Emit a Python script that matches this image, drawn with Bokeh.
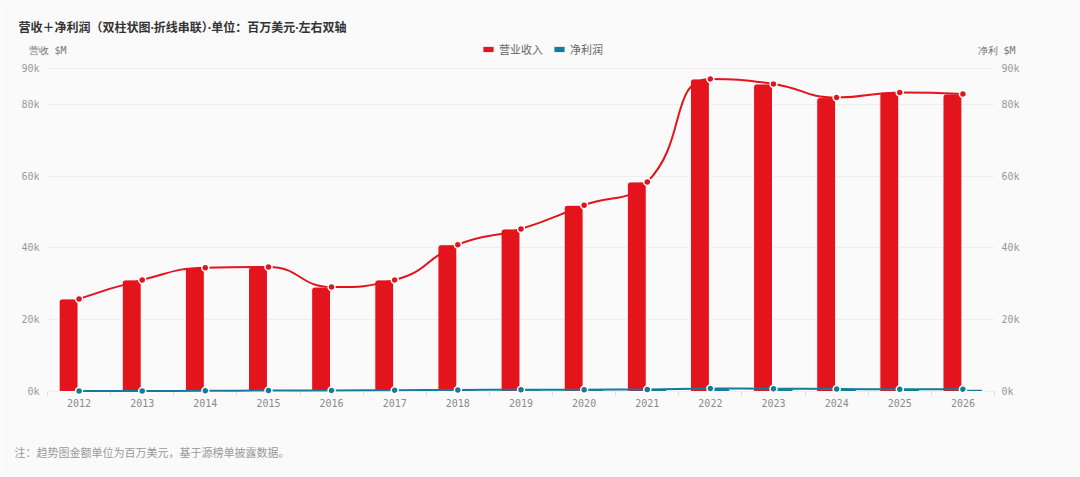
import math
from bokeh.plotting import figure
from bokeh.models import (Range1d, LinearAxis, FixedTicker, ColumnDataSource, Label,
                          Legend, LegendItem)
from bokeh.transform import dodge
from bokeh.embed import file_html
from bokeh.resources import INLINE

# ---------------- data ----------------
years = ["2012", "2013", "2014", "2015", "2016", "2017", "2018", "2019",
         "2020", "2021", "2022", "2023", "2024", "2025", "2026"]
revenue = [25800, 31100, 34500, 34700, 29100, 31100, 40900, 45300,
           51900, 58400, 87100, 85700, 81900, 83300, 82900]
net_profit = [120, 150, 200, 260, 300, 380, 430, 480,
              520, 560, 820, 780, 700, 620, 650]
y_ticks = [0, 20000, 40000, 60000, 80000, 90000]
y_tick_labels = ["0k", "20k", "40k", "60k", "80k", "90k"]

title_text = "营收＋净利润（双柱状图·折线串联）·单位：百万美元·左右双轴"
left_unit = "营收 $M"
right_unit = "净利 $M"
note_text = "注：趋势图金额单位为百万美元，基于源榜单披露数据。"
legend_labels = ["营业收入", "净利润"]

RED = "#e3141c"
BLUE = "#137c9b"
BG = "#fafafa"
CJK = "'Noto Sans', 'Noto Sans CJK SC'"

# ---------------- layout (pixels) ----------------
W, H = 1080, 477
PL, PR, PT, PB = 47, 994, 68, 391      # plotting area edges inside the canvas
Y_MAX = 90000
N = len(years)
CAT_PX = (PR - PL) / N
Y_PX = (PB - PT) / Y_MAX

X0, X1 = -0.5, N - 0.5
x_range = Range1d(X0 - PL / CAT_PX, X1 + (W - PR) / CAT_PX)
y_range = Range1d(-(H - PB) / Y_PX, Y_MAX + PT / Y_PX)

xs = list(range(N))
src = ColumnDataSource(dict(x=xs, rev=revenue, np=net_profit))

p = figure(width=W, height=H, output_backend="svg", toolbar_location=None,
           x_range=x_range, y_range=y_range,
           min_border_left=0, min_border_right=0, min_border_top=0, min_border_bottom=0)
p.extra_y_ranges = {"np": Range1d(y_range.start, y_range.end)}
p.background_fill_color = BG
p.border_fill_color = BG
p.outline_line_color = None
p.xgrid.grid_line_color = None
p.ygrid.grid_line_color = None

# x axis (category axis drawn at value 0)
xa = p.xaxis[0]
xa.fixed_location = 0
xa.bounds = (X0, X1)
xa.ticker = FixedTicker(ticks=xs, minor_ticks=[i - 0.5 for i in range(N + 1)])
xa.major_label_overrides = {i: y for i, y in enumerate(years)}
xa.major_tick_line_color = None
xa.major_tick_in = 0
xa.major_tick_out = 0
xa.minor_tick_in = 0
xa.minor_tick_out = 4
xa.minor_tick_line_color = "#dddddd"
xa.axis_line_color = "#dddddd"
xa.major_label_text_font = "DejaVu Sans Mono"
xa.major_label_text_font_size = "10px"
xa.major_label_text_color = "#8a8a8a"
xa.major_label_standoff = 3


def style_y(ax, standoff):
    ax.bounds = (0, Y_MAX)
    ax.ticker = FixedTicker(ticks=y_ticks)
    ax.major_label_overrides = {t: l for t, l in zip(y_ticks, y_tick_labels)}
    ax.axis_line_color = None
    ax.major_tick_out = 0
    ax.minor_tick_line_color = None
    ax.minor_tick_in = 0
    ax.minor_tick_out = 0
    ax.major_label_text_font = "DejaVu Sans Mono"
    ax.major_label_text_font_size = "10px"
    ax.major_label_text_color = "#999999"
    ax.major_label_standoff = standoff


ya = p.yaxis[0]
style_y(ya, 8)
ya.fixed_location = X0
# horizontal grid lines drawn as the left axis' inward ticks, under the bars
ya.major_tick_in = int(round(PR - PL))
ya.major_tick_line_color = "#eeeeee"
ya.level = "underlay"
xa.level = "underlay"

ra = LinearAxis(y_range_name="np", fixed_location=X1)
style_y(ra, 7)
ra.major_tick_in = 0
ra.major_tick_line_color = None
p.add_layout(ra, "right")

r_rev = p.vbar(x=dodge("x", -0.166, range=p.x_range), top="rev", width=0.30, source=src,
               fill_color=RED, line_color="white", line_width=1, border_radius=(3, 3, 0, 0))
r_np = p.vbar(x=dodge("x", 0.166, range=p.x_range), top="np", width=0.30, source=src,
              y_range_name="np", fill_color=BLUE, line_color="white", line_width=1,
              border_radius=(3, 3, 0, 0))

# smoothed line (bezier segments; control points derived from the data)
KY = Y_PX / CAT_PX


def smooth_src(xv, yv, smooth=0.5):
    n = len(xv)
    P = [(float(a), float(b) * KY) for a, b in zip(xv, yv)]
    prev_cp = [None] * n
    next_cp = [None] * n
    for i in range(n):
        x, y = P[i]
        if i == 0 or i == n - 1:
            prev_cp[i] = (x, y)
            next_cp[i] = (x, y)
            continue
        px, py = P[i - 1]
        nx, ny = P[i + 1]
        vx, vy = nx - px, ny - py
        lp = math.hypot(x - px, y - py)
        ln = math.hypot(nx - x, ny - y)
        r = ln / (ln + lp)
        ncx = x + vx * smooth * r
        ncy = y + vy * smooth * r
        ncx = max(min(ncx, max(nx, x)), min(nx, x))
        ncy = max(min(ncy, max(ny, y)), min(ny, y))
        vx, vy = ncx - x, ncy - y
        pcx = x - vx * lp / ln
        pcy = y - vy * lp / ln
        pcx = max(min(pcx, max(px, x)), min(px, x))
        pcy = max(min(pcy, max(py, y)), min(py, y))
        vx, vy = x - pcx, y - pcy
        ncx = x + vx * ln / lp
        ncy = y + vy * ln / lp
        prev_cp[i] = (pcx, pcy)
        next_cp[i] = (ncx, ncy)
    d = dict(x0=[], y0=[], x1=[], y1=[], cx0=[], cy0=[], cx1=[], cy1=[])
    for i in range(n - 1):
        d["x0"].append(P[i][0]); d["y0"].append(P[i][1] / KY)
        d["x1"].append(P[i + 1][0]); d["y1"].append(P[i + 1][1] / KY)
        d["cx0"].append(next_cp[i][0]); d["cy0"].append(next_cp[i][1] / KY)
        d["cx1"].append(prev_cp[i + 1][0]); d["cy1"].append(prev_cp[i + 1][1] / KY)
    return ColumnDataSource(d)


p.bezier(x0="x0", y0="y0", x1="x1", y1="y1", cx0="cx0", cy0="cy0", cx1="cx1", cy1="cy1",
         source=smooth_src(xs, revenue), line_color=RED, line_width=2)
p.bezier(x0="x0", y0="y0", x1="x1", y1="y1", cx0="cx0", cy0="cy0", cx1="cx1", cy1="cy1",
         source=smooth_src(xs, net_profit), y_range_name="np", line_color=BLUE, line_width=2)
p.scatter(x="x", y="rev", source=src, size=7, fill_color=RED, line_color="white", line_width=1.5)
p.scatter(x="x", y="np", source=src, y_range_name="np", size=7, fill_color=BLUE,
          line_color="white", line_width=1.5)

# legend (screen position from the canvas' bottom-left, the frame covers the canvas)
legend = Legend(items=[LegendItem(label=legend_labels[0], renderers=[r_rev]),
                       LegendItem(label=legend_labels[1], renderers=[r_np])],
                location=(481, H - 57), orientation="horizontal",
                glyph_width=14, glyph_height=8, label_height=14, label_standoff=4, spacing=9,
                padding=0, margin=0, background_fill_alpha=0, border_line_color=None,
                label_text_font="Noto Sans CJK SC", label_text_font_size="11px",
                label_text_color="#666666")
p.add_layout(legend, "center")


def add_text(text, x, y, size, color, font, bold=False):
    p.add_layout(Label(x=x, y=H - y, x_units="screen", y_units="screen",
                       text=text, text_font=font, text_font_size=size, text_color=color,
                       text_font_style="bold" if bold else "normal", text_baseline="middle"))


add_text(title_text, 18, 27, "12px", "#333333", CJK, bold=True)
add_text(left_unit, 28, 50, "10px", "#777777", "DejaVu Sans Mono")
add_text(right_unit, 977, 50, "10px", "#777777", "DejaVu Sans Mono")
add_text(note_text, 14, 451, "11px", "#999999", "Noto Sans CJK SC")

open("out.html", "w").write(file_html(p, INLINE))
